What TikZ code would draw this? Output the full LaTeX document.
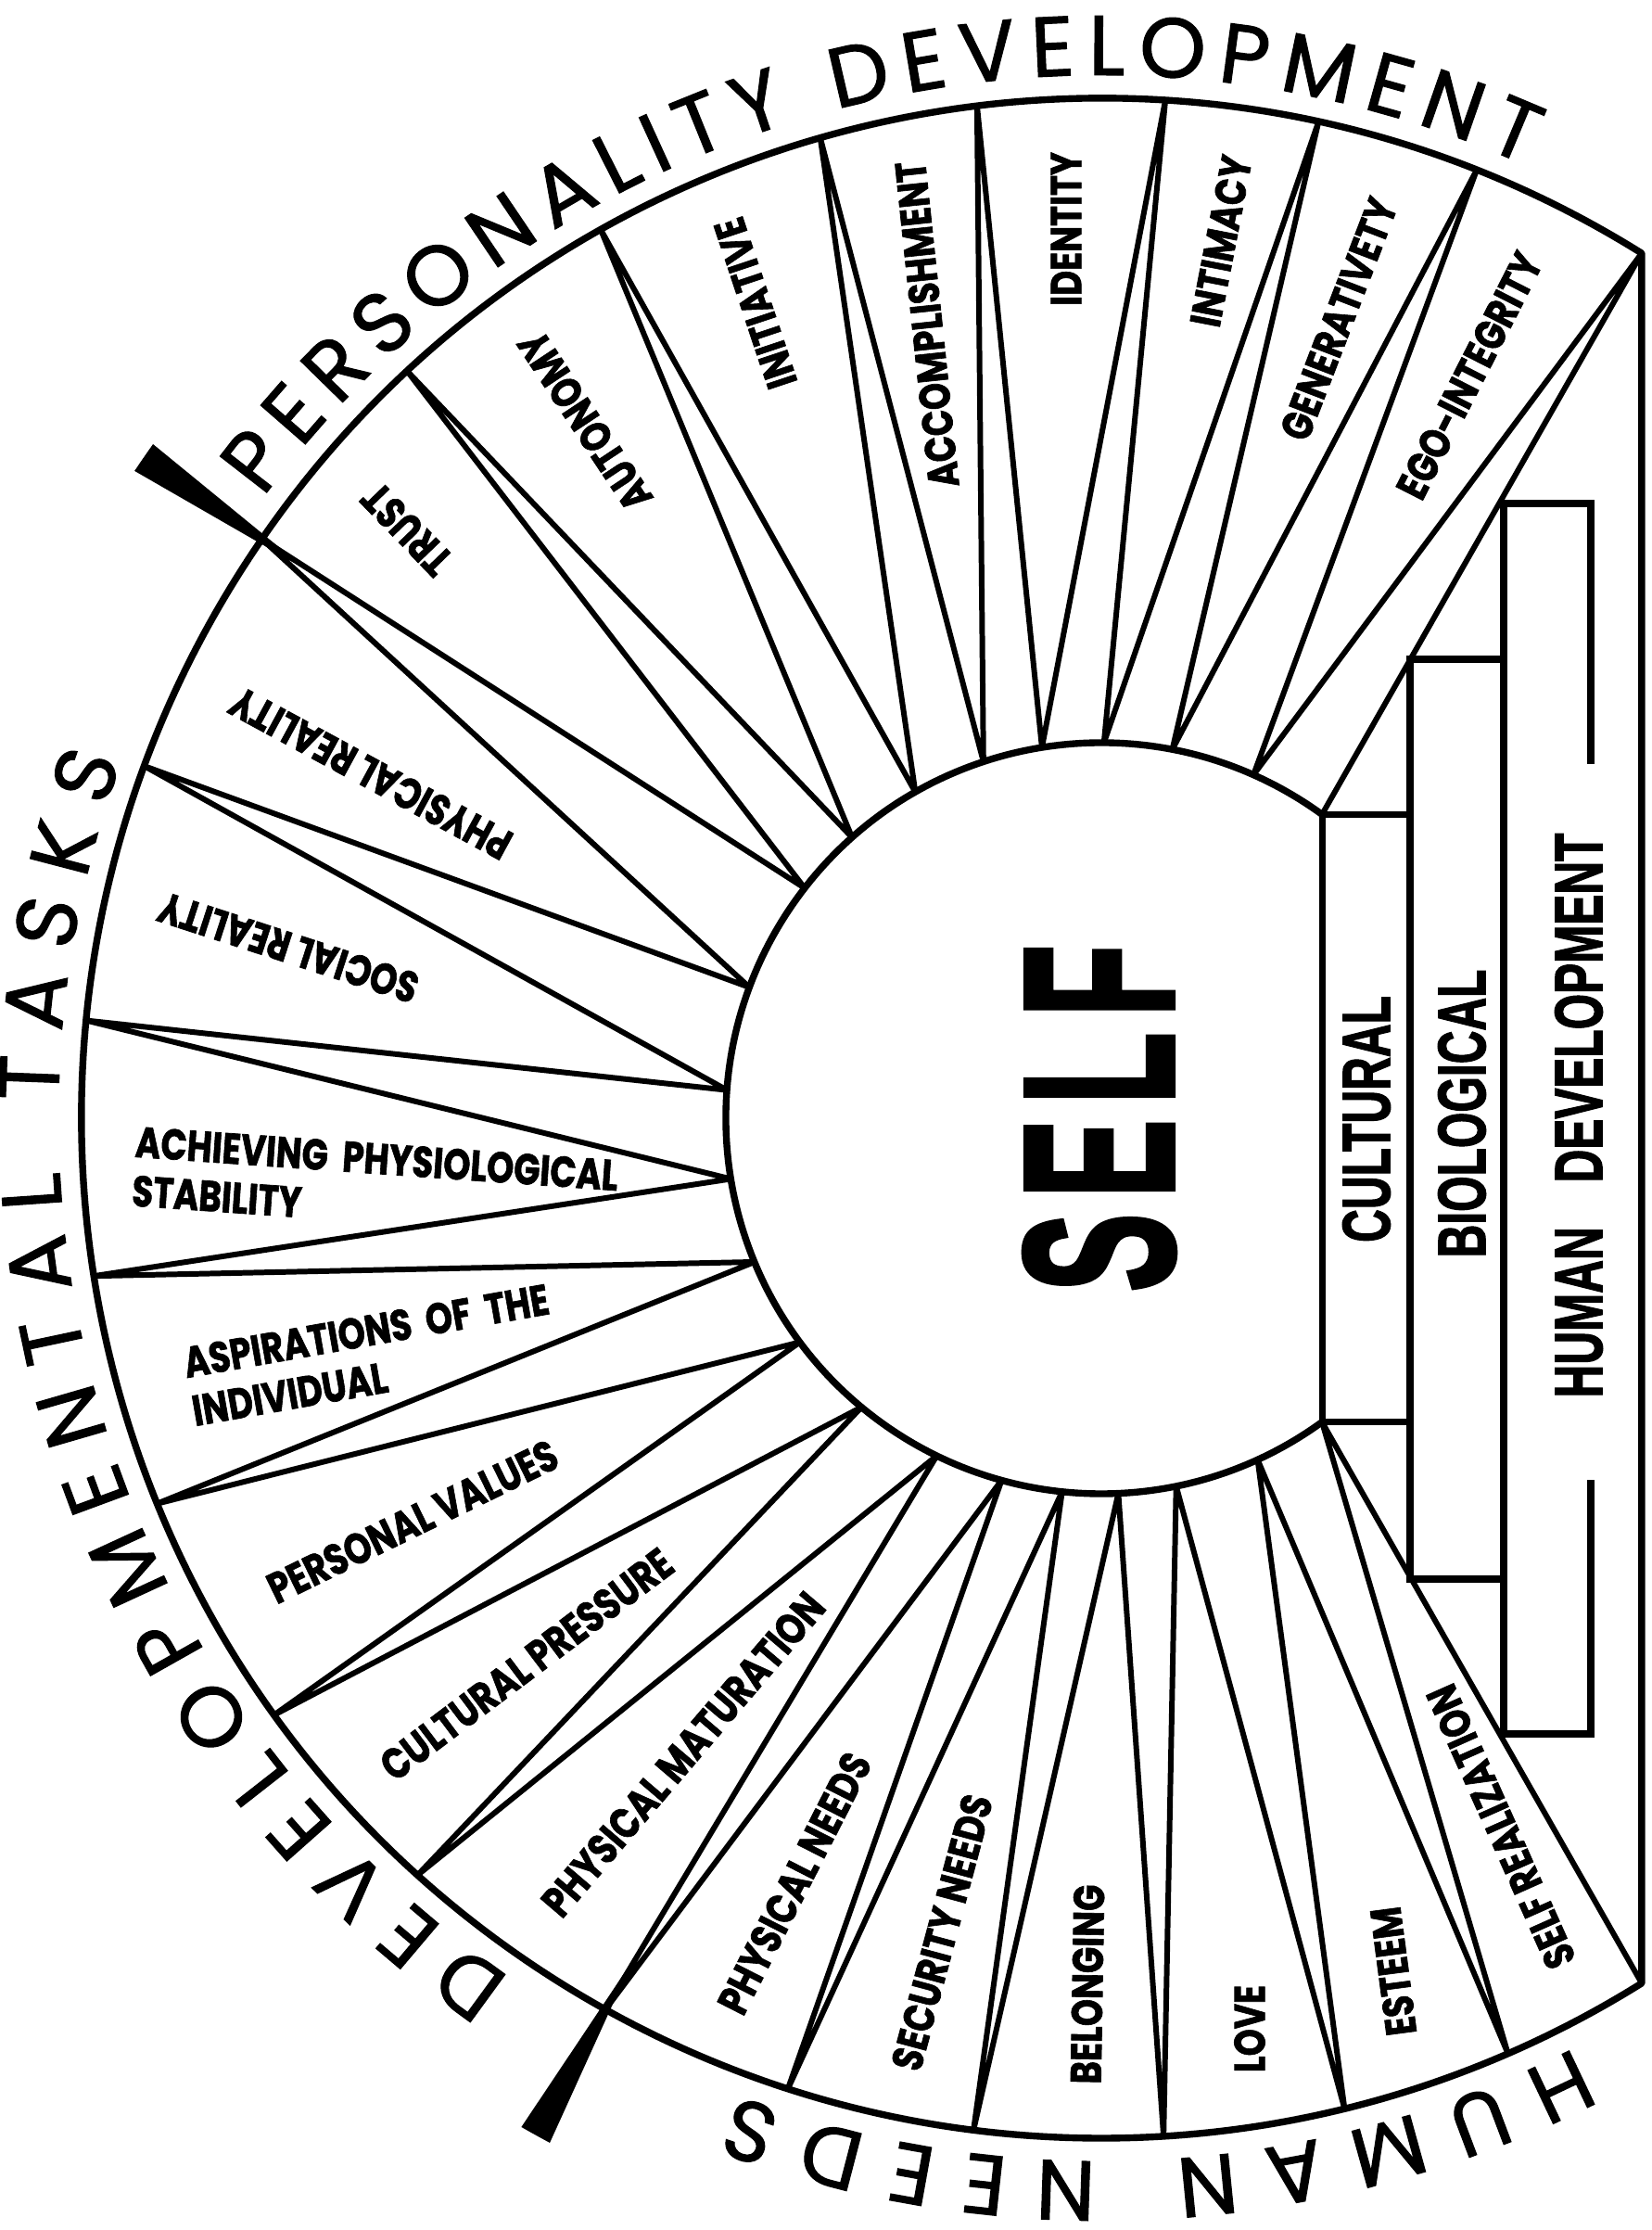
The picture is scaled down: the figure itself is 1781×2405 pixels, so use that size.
\documentclass[tikz,border=0pt]{standalone}
\usepackage{fontspec}
\setmainfont{Poppins}
\newfontfamily\labelfont[FakeBold=1.6]{Poppins}
\newfontfamily\titlefont[FakeBold=1.2]{Poppins}
\newfontfamily\blockfont[FakeBold=2]{Liberation Sans}
\newfontfamily\selffont[FakeBold=3]{Liberation Sans}
\usetikzlibrary{decorations.text}

\begin{document}
\begin{tikzpicture}[
			x=0.01cm, y=0.01cm,
			ring_line/.style={line width=2.1pt, line join=round},
			spoke/.style={line width=1.7pt, line join=round, line cap=round},
			box_line/.style={line width=2pt},
			needle/.style={fill=black},
			task_label/.style={font=\labelfont\bfseries\fontsize{13.2}{15}\selectfont, inner sep=0pt, align=left, rotate=#1, xscale=0.8},
			block_label/.style={font=\blockfont\bfseries\fontsize{20.7}{24}\selectfont, inner sep=0pt, rotate=90, xscale=0.68},
			self_text/.style={font=\selffont\bfseries\fontsize{65}{70}\selectfont, inner sep=0pt, rotate=90, xscale=0.55},
			ring_title/.style={decorate, decoration={text along path, text align=fit to path, text={|\titlefont\fontsize{26}{30}\selectfont|#1}}}
			]
			
			\useasboundingbox (-1188,-1199) rectangle (593,1206);
			
			% Inner ends of the spokes (on the SELF circle)
			\coordinate (p0) at (54:405);
			\coordinate (p1) at (66.1:405);
			\coordinate (p2) at (79.1:405);
			\coordinate (p3) at (89.6:405);
			\coordinate (p4) at (99.1:405);
			\coordinate (p5) at (108.3:405);
			\coordinate (p6) at (119.7:405);
			\coordinate (p7) at (131.6:405);
			\coordinate (p8) at (142.2:405);
			\coordinate (p9) at (159.6:405);
			\coordinate (p10) at (175.7:405);
			\coordinate (p11) at (189.3:405);
			\coordinate (p12) at (202.5:405);
			\coordinate (p13) at (216.6:405);
			\coordinate (p14) at (230.3:405);
			\coordinate (p15) at (244:405);
			\coordinate (p16) at (254.6:405);
			\coordinate (p17) at (264:405);
			\coordinate (p18) at (272.6:405);
			\coordinate (p19) at (281.5:405);
			\coordinate (p20) at (294.6:405);
			\coordinate (p21) at (306:405);
			
			% Outer ends of the spokes (on the rim)
			\coordinate (o1) at (58:1100);
			\coordinate (o2) at (68.4:1100);
			\coordinate (o3) at (77.7:1100);
			\coordinate (o4) at (86.4:1100);
			\coordinate (o5) at (97:1100);
			\coordinate (o6) at (106:1100);
			\coordinate (o7) at (119.4:1100);
			\coordinate (o8) at (132.9:1100);
			\coordinate (o9) at (145.4:1100);
			\coordinate (o10) at (159.8:1100);
			\coordinate (o11) at (174.5:1100);
			\coordinate (o12) at (188.9:1100);
			\coordinate (o13) at (202.2:1100);
			\coordinate (o14) at (215.8:1100);
			\coordinate (o15) at (227.9:1100);
			\coordinate (o16) at (240.9:1100);
			\coordinate (o17) at (252.1:1100);
			\coordinate (o18) at (262.8:1100);
			\coordinate (o19) at (273.5:1100);
			\coordinate (o20) at (283.8:1100);
			\coordinate (o21) at (293.5:1100);
			\coordinate (o22) at (302:1100);
			
			% Spokes (zigzag between rim and circle)
			\draw[spoke] (p0) -- (o1) -- (p1) -- (o2) -- (p2) -- (o3) -- (p3) -- (o4) -- (p4) -- (o5) -- (p5) -- (o6) -- (p6) -- (o7) -- (p7) -- (o8) -- (p8) -- (o9) -- (p9) -- (o10) -- (p10) -- (o11) -- (p11) -- (o12) -- (p12) -- (o13) -- (p13) -- (o14) -- (p14) -- (o15) -- (p15) -- (o16) -- (p16) -- (o17) -- (p17) -- (o18) -- (p18) -- (o19) -- (p19) -- (o20) -- (p20) -- (o21) -- (p21) -- (o22);
			
			% Rim and SELF circle
			\draw[ring_line] (o1) arc[start angle=58, end angle=302, radius=1100] -- cycle;
			\draw[ring_line] (p0) arc[start angle=54, end angle=306, radius=405];
			
			% Pointers
			\fill[needle] (144.6:1255) arc[start angle=144.6, end angle=146.2, radius=1255] -- (145.4:1040) -- cycle;
			\fill[needle] (240.1:1255) arc[start angle=240.1, end angle=241.7, radius=1255] -- (240.9:1040) -- cycle;
			
			% Stacked boxes
			\draw[box_line] (p0) rectangle (333,-327.6);
			\draw[box_line] (333,-497) rectangle (434,495);
			\draw[box_line] (528,382) -- (528,663) -- (434,663) -- (434,-664) -- (528,-664) -- (528,-390);
			
			% Rim titles
			\path[ring_title={PERSONALITY DEVELOPMENT}] (143.5:1125) arc[start angle=143.5, end angle=66, radius=1125];
			\path[ring_title={DEVELOPMENTAL TASKS}] (235.5:1125) arc[start angle=235.5, end angle=160, radius=1125];
			\path[ring_title={HUMAN NEEDS}] (297:1125) arc[start angle=297, end angle=249.5, radius=1125];
			
			% Personality development
			\node[task_label=134] (trust) at (-749,635) {TRUST};
			\node[task_label=123.5] (autonomy) at (-557,752) {AUTONOMY};
			\node[task_label=108.5] (initiative) at (-373,879) {INITIATIVE};
			\node[task_label=96] (accomplish) at (-188,856) {ACCOMPLISHMENT};
			\node[task_label=90] (identity) at (-38,959) {IDENTITY};
			\node[task_label=79] (intimacy) at (129,946) {INTIMACY};
			\node[task_label=69] (generative) at (256,862) {GENERATIVETY};
			\node[task_label=63] (egointeg) at (397,801) {EGO-INTEGRITY};
			
			% Developmental tasks
			\node[task_label=151.5] (physreal) at (-788,372) {PHYSICAL REALITY};
			\node[task_label=162] (socreal) at (-877,184) {SOCIAL REALITY};
			\node[task_label=-4, anchor=north west] (achieving) at (-1041,-8) {ACHIEVING\ \ PHYSIOLOGICAL\\STABILITY};
			\node[task_label=10, anchor=north west] (aspiration) at (-993,-247) {ASPIRATIONS\ \ OF\ \ THE\\INDIVIDUAL};
			\node[task_label=26] (persvalues) at (-743,-435) {PERSONAL VALUES};
			\node[task_label=37] (culpress) at (-620,-589) {CULTURAL PRESSURE};
			\node[task_label=49.5] (physmat) at (-451,-686) {PHYSICAL MATURATION};
			
			% Human needs
			\node[task_label=63] (physneeds) at (-331,-825) {PHYSICAL NEEDS};
			\node[task_label=75] (secneeds) at (-172,-878) {SECURITY NEEDS};
			\node[task_label=89] (belonging) at (-15,-934) {BELONGING};
			\node[task_label=90] (love) at (160,-982) {LOVE};
			\node[task_label=97.5] (esteem) at (315,-920) {ESTEEM};
			\node[task_label=114] (selfreal) at (431,-764) {SELF REALIZATION};
			
			% Centre and boxes
			\node[self_text] (self) at (-2,0) {S\kern9pt E\kern9pt L\kern9pt F};
			\node[block_label] (cultural) at (286,-1) {CULTURAL};
			\node[block_label] (biological) at (389,5) {BIOLOGICAL};
			\node[block_label] (humandev) at (515,3) {HUMAN\hspace{20pt}DEVELOPMENT};
			
		\end{tikzpicture}
\end{document}
